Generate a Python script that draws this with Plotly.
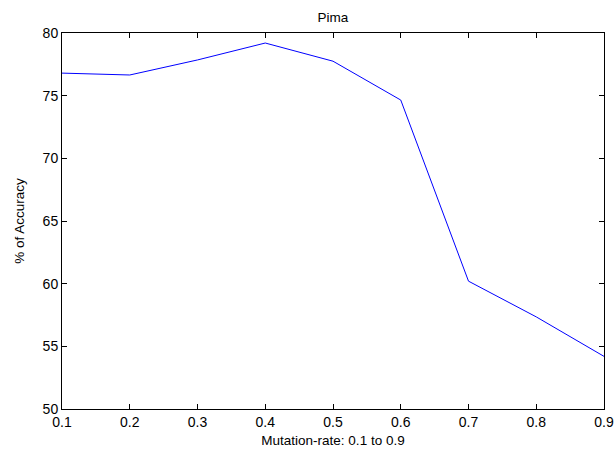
import plotly.graph_objects as go

mutation_rate = [0.1, 0.2, 0.3, 0.4, 0.5, 0.6, 0.7, 0.8, 0.9]
accuracy = [76.8, 76.65, 77.85, 79.2, 77.75, 74.65, 60.2, 57.35, 54.2]
x_ticks = [0.1, 0.2, 0.3, 0.4, 0.5, 0.6, 0.7, 0.8, 0.9]
y_ticks = [50, 55, 60, 65, 70, 75, 80]

FONT = "Liberation Sans, Arial, sans-serif"

fig = go.Figure()
fig.add_trace(go.Scatter(x=mutation_rate, y=accuracy, mode="lines",
                         line=dict(color="#0000ff", width=1), showlegend=False))

axis_common = dict(showline=True, linecolor="black", linewidth=1, mirror="allticks",
                   ticks="inside", ticklen=5, tickcolor="black", tickwidth=1,
                   showgrid=False, zeroline=False, automargin=False,
                   tickfont=dict(family=FONT, size=14, color="black"))

fig.update_layout(
    width=615, height=452,
    margin=dict(l=62, r=11, t=33, b=43),
    paper_bgcolor="white", plot_bgcolor="white",
    font=dict(family=FONT, size=13, color="black"),
    title=dict(text="Pima", x=(62 + 604) / 2 / 615, xanchor="center",
               y=1 - 17 / 452, yanchor="middle", yref="container",
               font=dict(family=FONT, size=13.5, color="black")),
    xaxis=dict(range=[0.1, 0.9], tickvals=x_ticks, ticktext=[f"{v:.1f}" for v in x_ticks],
               title=dict(text="Mutation-rate: 0.1 to 0.9", standoff=6,
                          font=dict(family=FONT, size=13.5)),
               **axis_common),
    yaxis=dict(range=[50, 80], tickvals=y_ticks,
               title=dict(text="% of Accuracy", standoff=14,
                          font=dict(family=FONT, size=13.5)),
               **axis_common),
)

fig.write_html("out.html")
